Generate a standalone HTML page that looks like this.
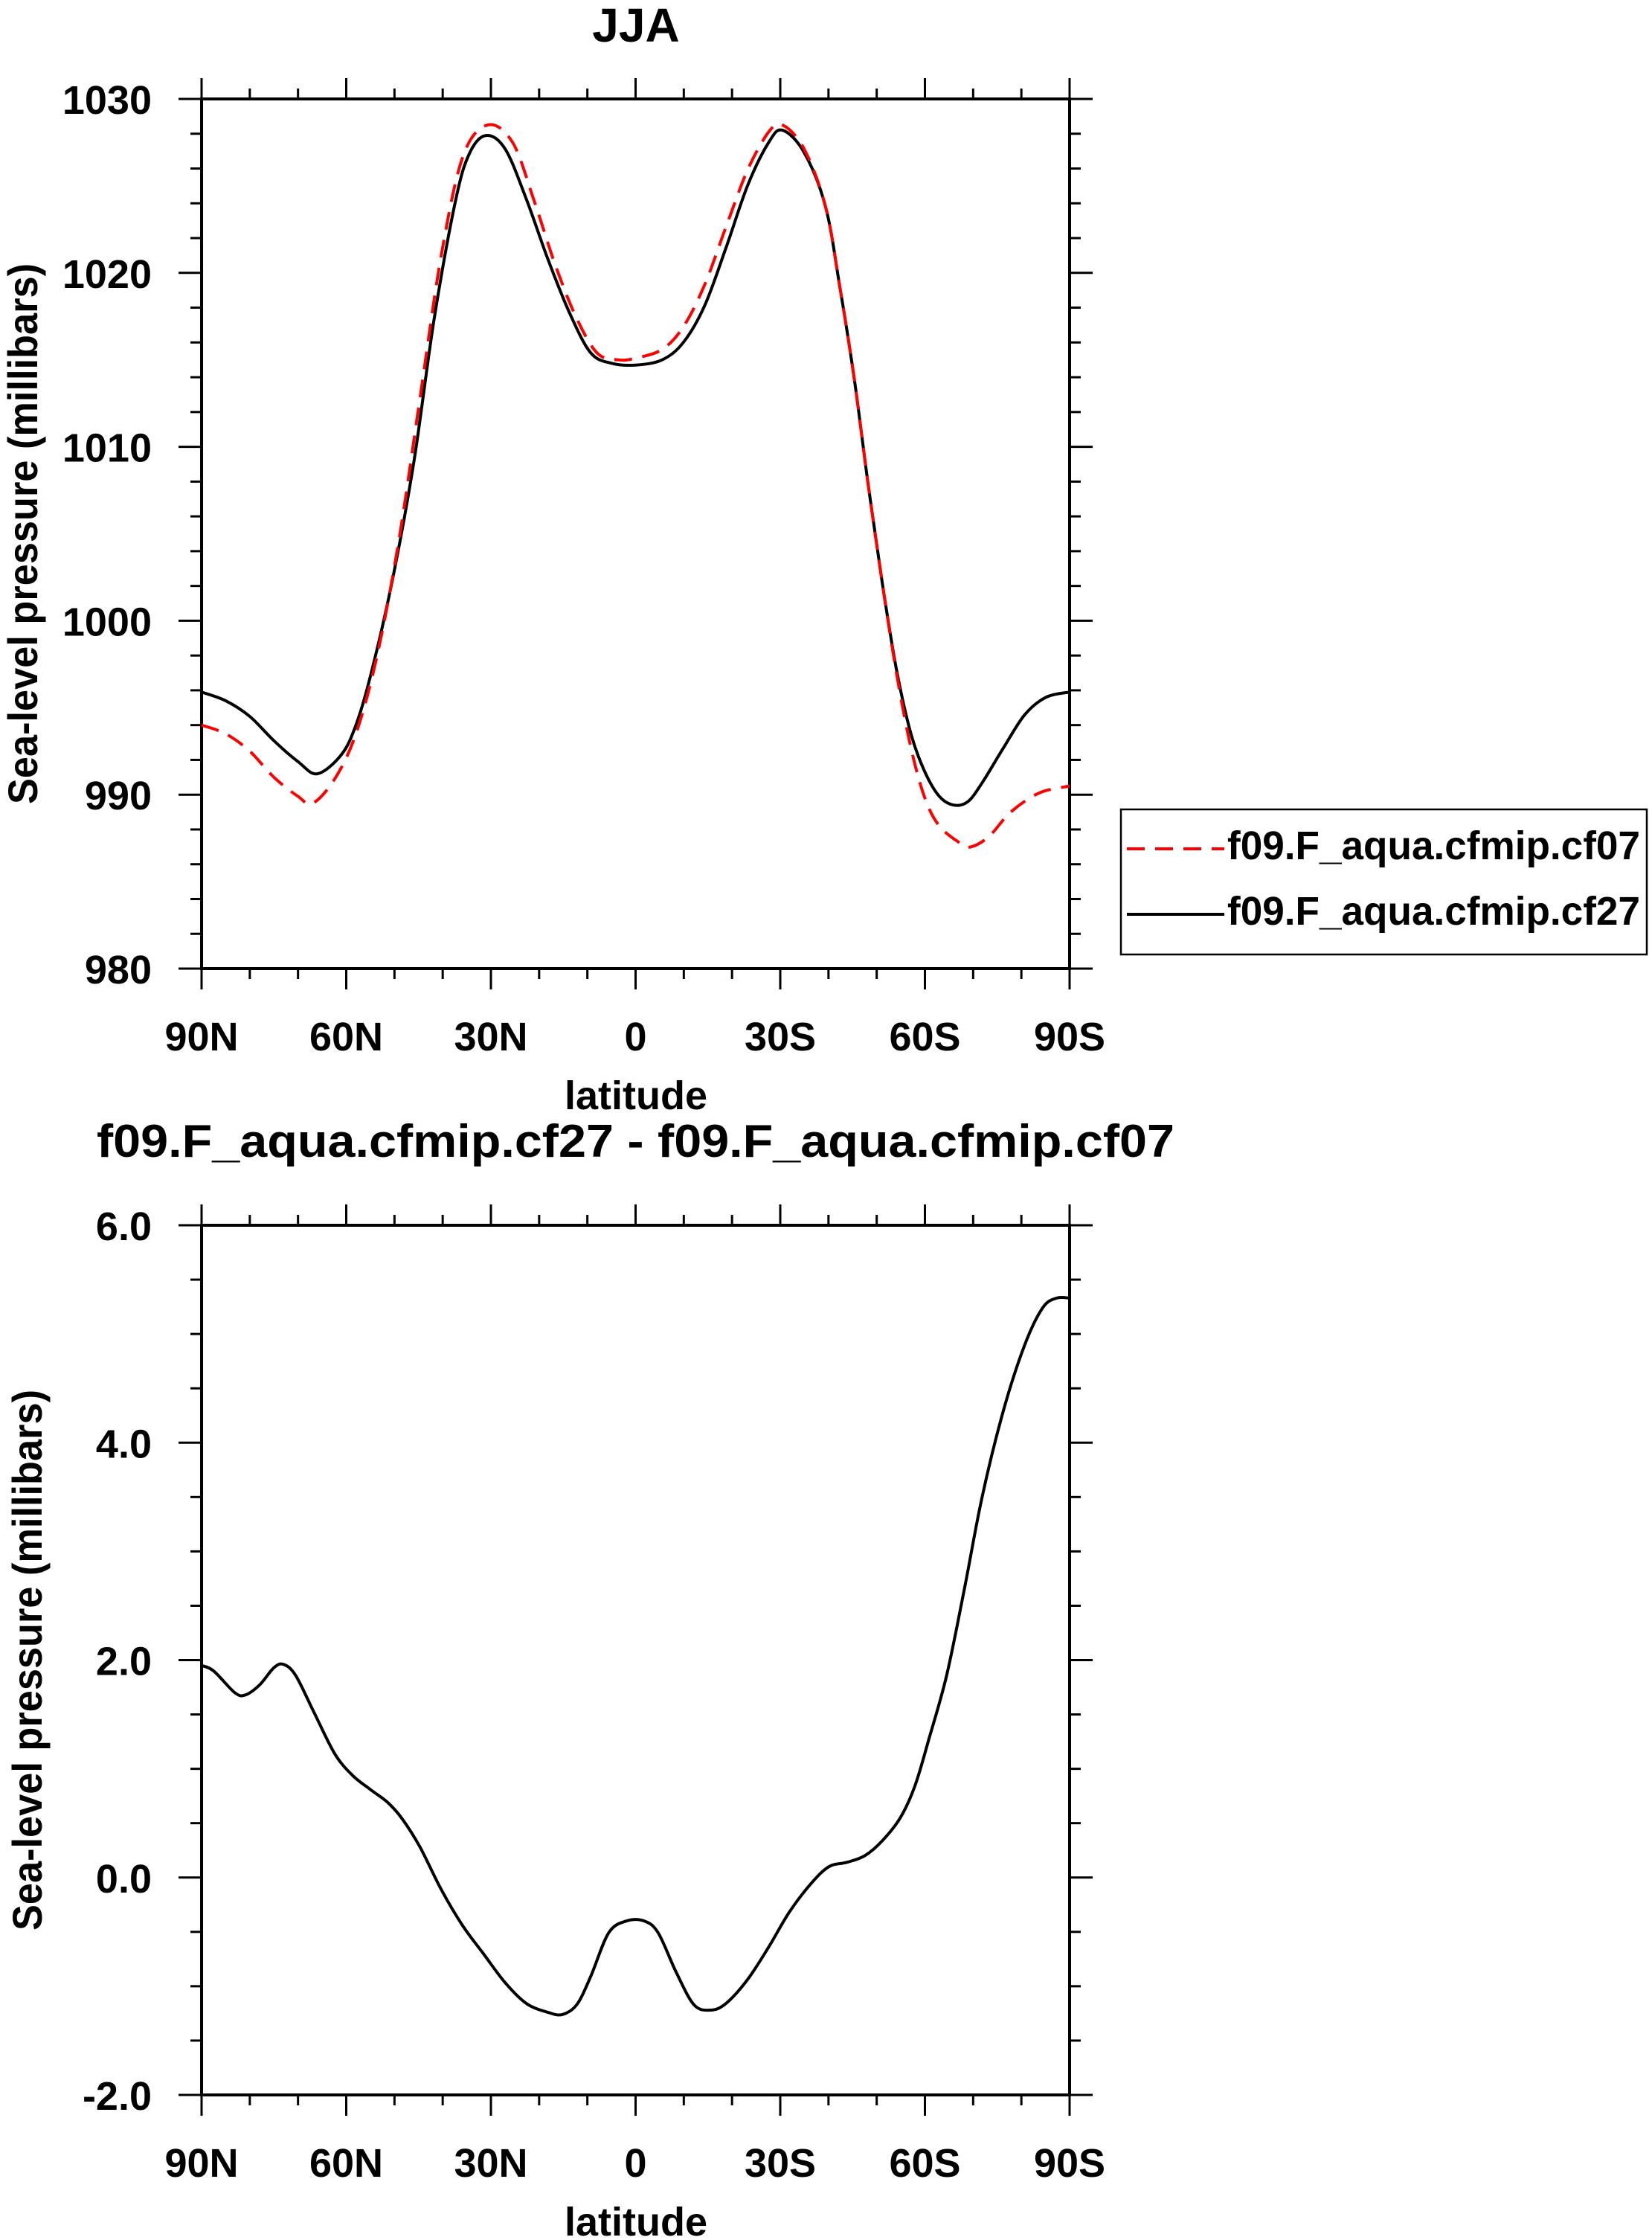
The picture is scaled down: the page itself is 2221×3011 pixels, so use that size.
<!DOCTYPE html>
<html><head><meta charset="utf-8"><style>
html,body{margin:0;padding:0;background:#fff;}
svg{display:block;font-family:"Liberation Sans",Arial,sans-serif;font-weight:bold;}
</style></head><body>
<svg id="chart" width="2221" height="3011" viewBox="0 0 2221 3011" xmlns="http://www.w3.org/2000/svg">
<rect width="2221" height="3011" fill="#fff"/>
<g id="topPanel"></g>
<g id="botPanel"></g>
</svg>
<script>
// ---- data ----
const topLatsCf27 = [90,85,80,75,70,66,61,58,55,50.6,46,41.8,37.3,34.4,31,27,22.6,18.2,13.7,9.3,4.9,0,-5.5,-9.9,-14.3,-18.7,-23.2,-27.6,-30.5,-35,-39.4,-42.3,-45.3,-48.2,-51.2,-54.1,-57.1,-60,-63,-66,-68.9,-71.9,-76.3,-80.7,-85.1,-90];
const topValsCf27 = [995.9,995.4,994.5,993.1,991.9,991.2,992.3,994.0,996.8,1002.1,1009.1,1017.3,1024.2,1026.9,1027.9,1027.1,1024.2,1020.8,1017.7,1015.4,1014.8,1014.7,1015.0,1016.0,1018.1,1021.4,1025.0,1027.5,1028.2,1026.9,1023.8,1019.3,1014.0,1007.9,1002.1,997.2,993.5,991.3,989.9,989.4,989.6,990.7,992.7,994.6,995.6,995.9];
const topLatsCf07 = [90,85,80,75,70,67,62.4,58,53.6,49.1,44.7,40.3,35.8,30.7,25.5,21.1,16.7,12.4,8,3.6,0,-5.5,-9.9,-14.3,-18.7,-23.2,-27.6,-30.5,-35,-39.4,-42.3,-45.3,-48.2,-51.2,-54.1,-57.1,-60,-63,-67.4,-69.6,-73.3,-77.8,-83.7,-90];
const topValsCf07 = [994.0,993.5,992.5,991.0,989.9,989.5,990.9,993.5,998.0,1004.6,1012.8,1021.0,1026.7,1028.5,1027.5,1024.2,1020.5,1017.5,1015.4,1015.0,1015.1,1015.6,1016.9,1019.3,1022.6,1025.9,1028.1,1028.5,1027.1,1023.8,1019.3,1014.0,1007.9,1002.1,997.0,992.7,989.8,988.2,987.2,987.0,987.6,989.0,990.1,990.5];
const diffLats = [90,87.5,83.1,80.9,78,75,73,70.5,66.8,62.4,58.7,55,51.4,48.4,44.7,40.3,35.9,31.4,27,22.6,18.2,15.2,12.2,9.3,5.6,1.9,-1.8,-4.7,-8.4,-12.1,-15.5,-18.7,-23.2,-27.6,-32,-36.5,-40.1,-43.8,-47.5,-51.2,-54.9,-57.9,-60.8,-64.5,-68.2,-71.9,-76.3,-80.7,-84.4,-87.3,-90];
const diffVals = [1.95,1.90,1.70,1.68,1.77,1.93,1.96,1.86,1.53,1.14,0.94,0.81,0.69,0.54,0.28,-0.11,-0.44,-0.71,-0.97,-1.16,-1.24,-1.26,-1.17,-0.91,-0.51,-0.40,-0.40,-0.51,-0.87,-1.17,-1.22,-1.16,-0.94,-0.64,-0.31,-0.05,0.10,0.14,0.20,0.34,0.55,0.84,1.27,1.86,2.66,3.51,4.30,4.90,5.24,5.33,5.33];
const xTickVals = [90,60,30,0,-30,-60,-90];
const xTickLabels = ["90N","60N","30N","0","30S","60S","90S"];
const topYTicks = [980,990,1000,1010,1020,1030];
const topYLabels = ["980","990","1000","1010","1020","1030"];
const botYTicks = [-2,0,2,4,6];
const botYLabels = ["-2.0","0.0","2.0","4.0","6.0"];
const seriesNames = ["f09.F_aqua.cfmip.cf07","f09.F_aqua.cfmip.cf27"];

const NS="http://www.w3.org/2000/svg";
function mk(parent,tag,attrs,text){const e=document.createElementNS(NS,tag);for(const k in attrs)e.setAttribute(k,attrs[k]);if(text!==undefined)e.textContent=text;parent.appendChild(e);return e;}
const X0=271,X1=1438;
function xs(lat){return X0+(90-lat)/180*(X1-X0);}
function smoothPath(px){let d="M"+px[0][0].toFixed(1)+","+px[0][1].toFixed(1);
 for(let i=0;i<px.length-1;i++){const p0=px[Math.max(0,i-1)],p1=px[i],p2=px[i+1],p3=px[Math.min(px.length-1,i+2)];
  const c1=[p1[0]+(p2[0]-p0[0])/6,p1[1]+(p2[1]-p0[1])/6],c2=[p2[0]-(p3[0]-p1[0])/6,p2[1]-(p3[1]-p1[1])/6];
  d+=" C"+c1[0].toFixed(1)+","+c1[1].toFixed(1)+" "+c2[0].toFixed(1)+","+c2[1].toFixed(1)+" "+p2[0].toFixed(1)+","+p2[1].toFixed(1);}
 return d;}

function panel(g,Y0,Y1,vmin,vmax,yt,yl,minorStep,ycx){
 const ys=v=>Y1-(v-vmin)/(vmax-vmin)*(Y1-Y0);
 const fr=mk(g,"rect",{x:X0,y:Y0,width:X1-X0,height:Y1-Y0,fill:"none",stroke:"#000","stroke-width":4});
 
 
 for(let lat=90;lat>=-90;lat-=10){const x=xs(lat);const major=(lat%30===0);const L=major?28:14;
  mk(g,"line",{x1:x,y1:Y1,x2:x,y2:Y1+L,stroke:"#000","stroke-width":3});
  mk(g,"line",{x1:x,y1:Y0,x2:x,y2:Y0-L,stroke:"#000","stroke-width":3});}
 xTickVals.forEach((v,i)=>{const t=mk(g,"text",{x:xs(v),y:Y1+110,"font-size":54,"text-anchor":"middle"},xTickLabels[i]);
  
  });
 for(let v=vmin;v<=vmax+1e-9;v+=minorStep){const y=ys(v);const major=yt.some(t=>Math.abs(t-v)<1e-6);const L=major?31:15;
  mk(g,"line",{x1:X0,y1:y,x2:X0-L,y2:y,stroke:"#000","stroke-width":3});
  mk(g,"line",{x1:X1,y1:y,x2:X1+L,y2:y,stroke:"#000","stroke-width":3});}
 yt.forEach((v,i)=>{const t=mk(g,"text",{x:204,y:ys(v)+20,"font-size":54,"text-anchor":"end"},yl[i]);
  
  });
 const xt=mk(g,"text",{x:855,y:Y1+189,"font-size":54,"text-anchor":"middle"},"latitude");
 
 
 const cy=(Y0+Y1)/2;
 const yT=mk(g,"text",{x:0,y:0,"font-size":56,"text-anchor":"middle",textLength:727,lengthAdjust:"spacingAndGlyphs",transform:"translate("+ycx+","+cy+") rotate(-90)"},"Sea-level pressure (millibars)");
 
 
 return ys;}

const gTop=document.getElementById("topPanel");
const ysT=panel(gTop,133,1302,980,1030,topYTicks,topYLabels,2,50);
const t1=mk(gTop,"text",{x:855,y:56,"font-size":64,"text-anchor":"middle"},"JJA");


const pBlk=mk(gTop,"path",{d:smoothPath(topLatsCf27.map((l,i)=>[xs(l),ysT(topValsCf27[i])])),fill:"none",stroke:"#000","stroke-width":4});


const pRed=mk(gTop,"path",{d:smoothPath(topLatsCf07.map((l,i)=>[xs(l),ysT(topValsCf07[i])])),fill:"none",stroke:"#ff0000","stroke-width":4,"stroke-dasharray":"24,14"});


const lg=mk(gTop,"g",{});


mk(lg,"rect",{x:1507,y:1088,width:707,height:195,fill:"#fff",stroke:"#000","stroke-width":2.5});
mk(lg,"line",{x1:1515,y1:1141,x2:1646,y2:1141,stroke:"#ff0000","stroke-width":4,"stroke-dasharray":"24,14"});
mk(lg,"line",{x1:1515,y1:1229,x2:1646,y2:1229,stroke:"#000","stroke-width":4});
const le1=mk(lg,"text",{x:1650,y:1155,"font-size":54,textLength:555,lengthAdjust:"spacingAndGlyphs"},seriesNames[0]);


const le2=mk(lg,"text",{x:1650,y:1243,"font-size":54,textLength:555,lengthAdjust:"spacingAndGlyphs"},seriesNames[1]);



const gBot=document.getElementById("botPanel");
const ysB=panel(gBot,1647,2816,-2,6,botYTicks,botYLabels,0.5,56);
const t2=mk(gBot,"text",{x:130,y:1555,"font-size":62,textLength:1449,lengthAdjust:"spacingAndGlyphs"},"f09.F_aqua.cfmip.cf27 - f09.F_aqua.cfmip.cf07");


const pD=mk(gBot,"path",{d:smoothPath(diffLats.map((l,i)=>[xs(l),ysB(diffVals[i])])),fill:"none",stroke:"#000","stroke-width":4});


</script>
</body></html>
